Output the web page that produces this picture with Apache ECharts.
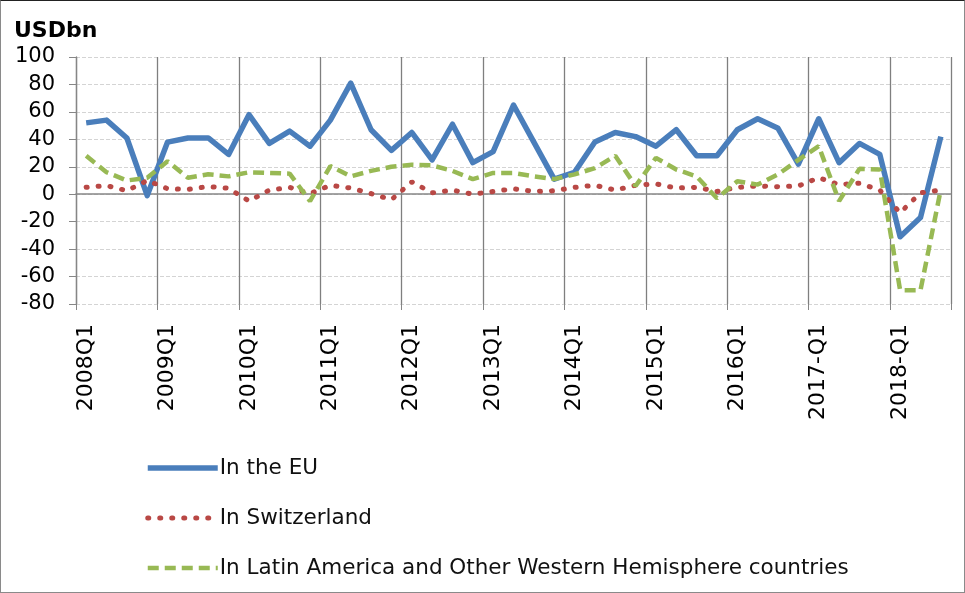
<!DOCTYPE html>
<html>
<head>
<meta charset="utf-8">
<script src="https://cdn.jsdelivr.net/npm/echarts@6/dist/echarts.min.js"></script>
<style>
  html, body { margin: 0; padding: 0; background: #fff; }
  #chart { width: 963px; height: 591px; border: 1px solid #8a8a8a; border-top-color: #222; }
</style>
</head>
<body>
<div id="chart"></div>
<script>
var quarters = [
  '2008Q1','2008Q2','2008Q3','2008Q4','2009Q1','2009Q2','2009Q3','2009Q4',
  '2010Q1','2010Q2','2010Q3','2010Q4','2011Q1','2011Q2','2011Q3','2011Q4',
  '2012Q1','2012Q2','2012Q3','2012Q4','2013Q1','2013Q2','2013Q3','2013Q4',
  '2014Q1','2014Q2','2014Q3','2014Q4','2015Q1','2015Q2','2015Q3','2015Q4',
  '2016Q1','2016Q2','2016Q3','2016Q4','2017-Q1','2017-Q2','2017-Q3','2017-Q4',
  '2018-Q1','2018-Q2','2018-Q3'
];
var euData = [52, 54, 41, -1, 38, 41, 41, 29, 58, 37, 46, 35, 54, 81, 47, 32,
  45, 25, 51, 23, 31, 65, 38, 11, 16, 38, 45, 42, 35, 47, 28, 28,
  47, 55, 48, 22, 55, 23, 37, 29, -31, -17, 42];
var swissData = [5, 6.3, 2.5, 10, 4, 3.5, 5.6, 4.3, -5, 3, 5, 0.5, 6.5, 4.5, 0.5, -4,
  9, 1, 3, 0, 2, 4, 2, 2.5, 5, 6.5, 3, 6.5, 7.5, 4.5, 5, 2,
  5, 6, 5.5, 6, 12, 7, 8, 3, -13.5, 1, 3];
var latamData = [28, 16, 10, 12, 24, 12, 14.5, 13, 16, 15.5, 15, -5, 20.5, 13, 17, 20,
  21.5, 21, 17, 11, 15.5, 15.5, 13, 11, 14.5, 19, 28, 6, 26.5, 18, 13, -3,
  9.5, 7, 14.5, 25, 35, -5, 18.5, 18, -70, -70, 3.5];
var seriesNames = ['In the EU', 'In Switzerland', 'In Latin America and Other Western Hemisphere countries'];

var chart = echarts.init(document.getElementById('chart'));
var font = 'DejaVu Sans';
var blue = '#4a7ebb', red = '#b94845', green = '#98b954';
var euLine = { color: blue, width: 5.5, join: 'round' };
var swissLine = { color: red, width: 5, type: [1, 11], cap: 'round' };
var latamLine = { color: green, width: 4.5, type: [11, 6] };

var option = {
  animation: false,
  title: {
    text: 'USDbn',
    left: 8,
    top: 14,
    textStyle: { fontFamily: font, fontWeight: 'bold', fontSize: 22, color: '#000' }
  },
  legend: {
    orient: 'vertical',
    left: 139,
    top: 451,
    itemWidth: 70,
    itemHeight: 20,
    itemGap: 28,
    itemStyle: { opacity: 0 },
    data: [
      { name: seriesNames[0], lineStyle: euLine },
      { name: seriesNames[1], lineStyle: swissLine },
      { name: seriesNames[2], lineStyle: latamLine }
    ],
    textStyle: { fontFamily: font, fontSize: 21.5, color: '#111', padding: [0, 0, 0, -3] }
  },
  grid: { left: 75, right: 13, top: 56, bottom: 288 },
  xAxis: [
    {
      type: 'category',
      data: quarters,
      boundaryGap: true,
      axisLine: { show: false, onZero: false },
      axisTick: { show: true, interval: 3, length: 6, lineStyle: { color: '#868686' } },
      splitLine: { show: true, interval: 3, lineStyle: { color: '#7f7f7f', width: 1.3 } },
      axisLabel: {
        interval: 3,
        rotate: 90,
        margin: 20,
        fontFamily: font,
        fontSize: 22,
        color: '#000'
      }
    },
    {
      // zero line of the value axis
      type: 'category',
      data: quarters,
      position: 'bottom',
      axisLine: { show: true, onZero: true, lineStyle: { color: '#868686', width: 1.5 } },
      axisTick: { show: false },
      axisLabel: { show: false },
      splitLine: { show: false }
    }
  ],
  yAxis: {
    type: 'value',
    min: -80,
    max: 100,
    interval: 20,
    axisLine: { show: true, lineStyle: { color: '#868686', width: 1.3 } },
    axisTick: { show: true, length: 7, lineStyle: { color: '#868686' } },
    splitLine: { show: true, lineStyle: { color: '#d4d4d4', type: [4, 2], width: 1 } },
    axisLabel: { margin: 21, fontFamily: font, fontSize: 21, color: '#000' }
  },
  series: [
    {
      name: seriesNames[0],
      type: 'line',
      data: euData,
      symbol: 'none',
      lineStyle: euLine,
      itemStyle: { color: blue }
    },
    {
      name: seriesNames[1],
      type: 'line',
      data: swissData,
      symbol: 'none',
      lineStyle: swissLine,
      itemStyle: { color: red }
    },
    {
      name: seriesNames[2],
      type: 'line',
      data: latamData,
      symbol: 'none',
      lineStyle: latamLine,
      itemStyle: { color: green }
    }
  ]
};
chart.setOption(option);
</script>
</body>
</html>
